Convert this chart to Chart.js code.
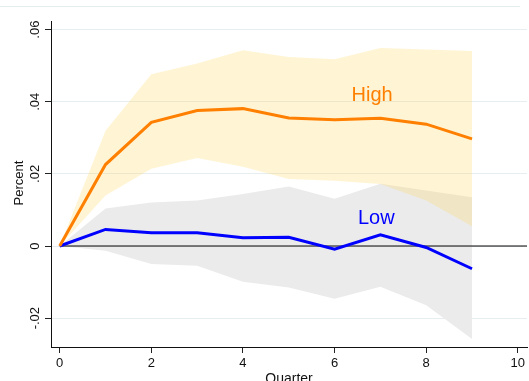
<!DOCTYPE html>
<html>
<head>
<meta charset="utf-8">
<script src="https://cdn.jsdelivr.net/npm/chart.js@4.4.1/dist/chart.umd.min.js"></script>
<style>
  html, body { margin: 0; padding: 0; background: #fff; }
  canvas { display: block; }
</style>
</head>
<body>
<canvas id="c" width="529" height="381"></canvas>
<script>
// Impulse responses by quarter, with confidence bands
const quarters  = [0, 1, 2, 3, 4, 5, 6, 7, 8, 9];
const highIrf   = [0, 0.0226, 0.0343, 0.0376, 0.0381, 0.0355, 0.0350, 0.0354, 0.0338, 0.0297];
const highUpper = [0, 0.0320, 0.0476, 0.0506, 0.0543, 0.0524, 0.0518, 0.0549, 0.0545, 0.0541];
const highLower = [0, 0.0140, 0.0214, 0.0244, 0.0220, 0.0186, 0.0181, 0.0172, 0.0126, 0.0055];
const lowIrf    = [0, 0.0046, 0.0037, 0.0037, 0.0023, 0.0024, -0.0009, 0.0031, -0.0004, -0.0063];
const lowUpper  = [0, 0.0104, 0.0121, 0.0126, 0.0144, 0.0165, 0.0131, 0.0173, 0.0154, 0.0135];
const lowLower  = [0, -0.0013, -0.0050, -0.0055, -0.0099, -0.0115, -0.0146, -0.0113, -0.0164, -0.0258];

const xTicks      = [0, 2, 4, 6, 8, 10];
const yTicks      = [-0.02, 0, 0.02, 0.04, 0.06];
const yTickLabels = ['-.02', '0', '.02', '.04', '.06'];

const X_MIN = -0.19, X_MAX = 10.2;
const Y_MIN = -0.028, Y_MAX = 0.0624;

const pts = arr => quarters.map((q, i) => ({ x: q, y: arr[i] }));

const FONT = '"Liberation Sans", Arial, Helvetica, sans-serif';

const bandBase = { pointRadius: 0, borderWidth: 0, tension: 0 };

// Text, rotated y labels and the header rule
const decorations = {
  id: 'decorations',
  afterDatasetsDraw(chart) {
    const { ctx, scales: { x, y } } = chart;
    ctx.save();
    ctx.font = '20px ' + FONT;
    ctx.textAlign = 'center';
    ctx.textBaseline = 'middle';
    ctx.fillStyle = '#FF7F00';
    ctx.fillText('High', x.getPixelForValue(6.82), y.getPixelForValue(0.0418));
    ctx.fillStyle = '#0000FF';
    ctx.fillText('Low', x.getPixelForValue(6.91), y.getPixelForValue(0.0076));
    ctx.restore();
  },
  afterDraw(chart) {
    const { ctx, chartArea, scales: { y } } = chart;
    ctx.save();
    // header rule
    ctx.strokeStyle = '#E3ECEF';
    ctx.lineWidth = 1;
    ctx.beginPath();
    ctx.moveTo(0, 6.5);
    ctx.lineTo(520, 6.5);
    ctx.stroke();

    ctx.fillStyle = '#111';
    ctx.textAlign = 'center';
    ctx.textBaseline = 'middle';
    // y tick labels, rotated
    ctx.font = '13px ' + FONT;
    yTicks.forEach((v, i) => {
      ctx.save();
      ctx.translate(35, y.getPixelForValue(v));
      ctx.rotate(-Math.PI / 2);
      ctx.fillText(yTickLabels[i], 0, 0);
      ctx.restore();
    });
    // y axis title
    ctx.save();
    ctx.font = '13px ' + FONT;
    ctx.translate(19, 183);
    ctx.rotate(-Math.PI / 2);
    ctx.fillText('Percent', 0, 0);
    ctx.restore();
    // x axis title
    ctx.font = '14px ' + FONT;
    ctx.textBaseline = 'top';
    ctx.fillText('Quarter', (chartArea.left + chartArea.right) / 2, 372);
    ctx.restore();
  }
};

new Chart(document.getElementById('c'), {
  type: 'line',
  data: {
    datasets: [
      { ...bandBase, label: 'High upper', data: pts(highUpper), fill: '+1',
        backgroundColor: 'rgba(255, 214, 90, 0.26)', borderColor: 'rgba(0,0,0,0)', order: 2 },
      { ...bandBase, label: 'High lower', data: pts(highLower), fill: false,
        borderColor: 'rgba(0,0,0,0)', order: 2 },
      { ...bandBase, label: 'Low upper', data: pts(lowUpper), fill: '+1',
        backgroundColor: '#EBEBEB', borderColor: 'rgba(0,0,0,0)', order: 3 },
      { ...bandBase, label: 'Low lower', data: pts(lowLower), fill: false,
        borderColor: 'rgba(0,0,0,0)', order: 3 },
      { label: 'Zero', data: [{ x: 0, y: 0 }, { x: X_MAX, y: 0 }], fill: false,
        borderColor: '#000', borderWidth: 1, pointRadius: 0, order: 1 },
      { label: 'High', data: pts(highIrf), fill: false, borderColor: '#FF7F00',
        borderWidth: 3, pointRadius: 0, tension: 0, order: 0 },
      { label: 'Low', data: pts(lowIrf), fill: false, borderColor: '#0000FF',
        borderWidth: 3, pointRadius: 0, tension: 0, order: 0 }
    ]
  },
  options: {
    responsive: false,
    animation: false,
    devicePixelRatio: 1,
    layout: { padding: { top: 21, right: 2, left: 0, bottom: 0 } },
    plugins: { legend: { display: false }, tooltip: { enabled: false }, title: { display: false } },
    scales: {
      x: {
        type: 'linear', min: X_MIN, max: X_MAX,
        afterBuildTicks: s => { s.ticks = xTicks.map(v => ({ value: v })); },
        afterFit: s => { s.height = 34; },
        grid: { drawOnChartArea: false, drawTicks: true, tickLength: 6, tickColor: '#222' },
        border: { color: '#111', width: 1 },
        ticks: { color: '#111', padding: 3, font: { size: 13, family: FONT }, maxRotation: 0 }
      },
      y: {
        type: 'linear', min: Y_MIN, max: Y_MAX,
        afterBuildTicks: s => { s.ticks = yTicks.map(v => ({ value: v })); },
        afterFit: s => { s.width = 51; },
        grid: { color: '#E6EEF1', lineWidth: 1, drawTicks: true, tickLength: 6, tickColor: '#222' },
        border: { color: '#111', width: 1 },
        ticks: { display: false }
      }
    }
  },
  plugins: [decorations]
});
</script>
</body>
</html>
